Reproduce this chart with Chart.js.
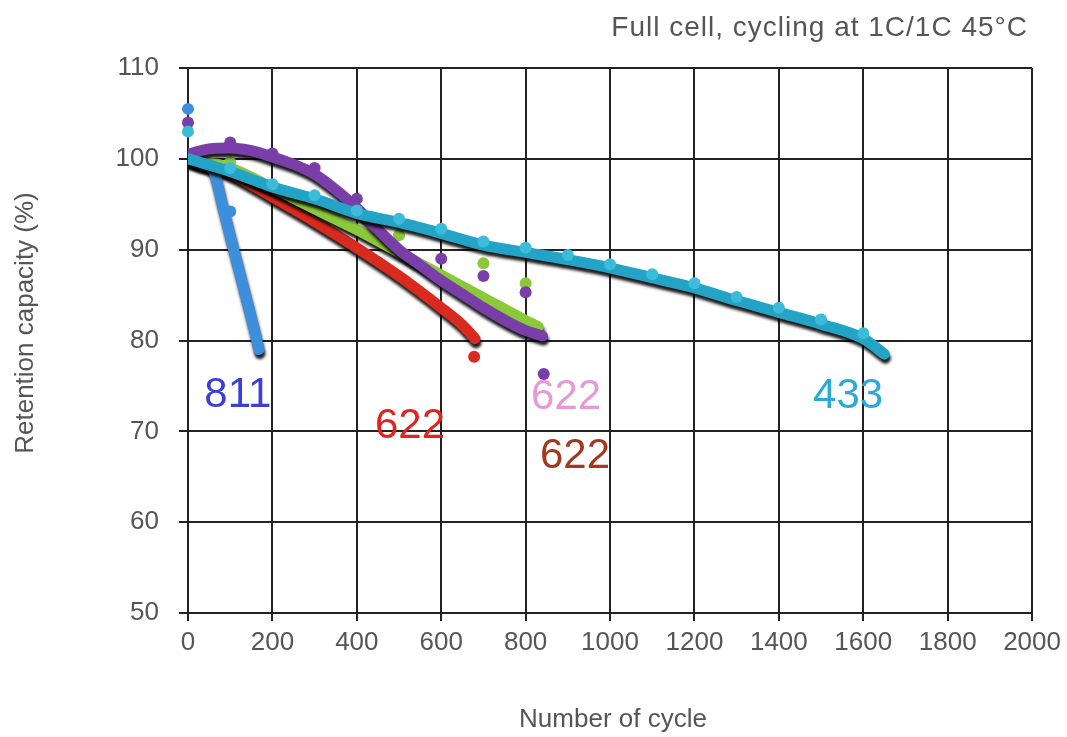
<!DOCTYPE html>
<html lang="en">
<head>
  <meta charset="utf-8">
  <title>Retention capacity vs cycle number</title>
  <script src="https://cdn.jsdelivr.net/npm/chart.js"></script>
  <style>
    html, body { margin: 0; padding: 0; background: #fff; }
    #wrap { position: relative; width: 1067px; height: 737px; }
  </style>
</head>
<body>
<div id="wrap"><canvas id="chart" width="1067" height="737"></canvas></div>

<script>
  // axis ticks
  const xTicks = [0, 200, 400, 600, 800, 1000, 1200, 1400, 1600, 1800, 2000];
  const yTicks = [50, 60, 70, 80, 90, 100, 110];

  // NCM811 (blue)
  const ncm811X = [0, 30, 60, 80, 100, 120, 140, 160, 168];
  const ncm811Y = [100, 99.4, 98.7, 95.2, 91.5, 87.9, 84.3, 80.6, 79];
  const ncm811DotX = [0, 100];
  const ncm811DotY = [105.5, 94.2];

  // NCM622 (red)
  const red622X = [0, 100, 200, 300, 400, 500, 600, 650, 680];
  const red622Y = [100, 98.4, 95.8, 93.1, 90.2, 87.1, 83.6, 81.7, 80.2];
  const red622DotX = [678];
  const red622DotY = [78.2];

  // NCM622 (green)
  const green622X = [0, 100, 200, 300, 400, 500, 600, 700, 800, 830];
  const green622Y = [100, 99, 96.8, 94.5, 92.2, 89.7, 87.2, 84.7, 82.2, 81.5];
  const green622DotX = [100, 500, 700, 800];
  const green622DotY = [99.6, 91.6, 88.5, 86.3];

  // NCM622 (purple)
  const purple622X = [0, 50, 100, 150, 200, 250, 300, 350, 400, 450, 500, 550, 600, 650, 700, 760, 800, 840];
  const purple622Y = [100.5, 101.1, 101.2, 100.9, 100.2, 99.4, 98.3, 96.6, 94.6, 92.2, 90, 88.3, 86.6, 85.1, 83.6, 82, 81.1, 80.5];
  const purple622DotX = [0, 100, 200, 300, 400, 600, 700, 800, 843];
  const purple622DotY = [104, 101.8, 100.6, 99, 95.6, 89, 87.1, 85.3, 76.3];

  // NCM433 (cyan)
  const ncm433X = [0, 100, 200, 300, 400, 500, 600, 700, 800, 900, 1000, 1100, 1200, 1300, 1400, 1500, 1600, 1650];
  const ncm433Y = [100, 98.6, 96.9, 95.6, 94, 93, 91.8, 90.5, 89.7, 88.9, 88, 86.9, 85.8, 84.4, 83.1, 81.8, 80.2, 78.5];
  const ncm433DotX = [0, 100, 200, 300, 400, 500, 600, 700, 800, 900, 1000, 1100, 1200, 1300, 1400, 1500, 1600];
  const ncm433DotY = [103, 99, 97.2, 96, 94.3, 93.4, 92.3, 90.9, 90.2, 89.4, 88.4, 87.3, 86.3, 84.8, 83.6, 82.3, 80.8];

  // curve labels
  const labelText = ['811', '622', '622', '622', '433'];
  const labelX = [118, 526, 896, 917, 1564];
  const labelY = [74, 70.5, 73.7, 67.2, 73.8];
  const labelColor = ['#3b3fd6', '#e0231c', '#e49ad2', '#a2391c', '#2aa9dc'];

  const pts = (xs, ys) => xs.map((x, i) => ({ x: x, y: ys[i] }));

  function curve(xs, ys, color, order) {
    return {
      type: 'line', data: pts(xs, ys), borderColor: color, borderWidth: 11,
      pointRadius: 0, cubicInterpolationMode: 'monotone', borderCapStyle: 'round',
      borderJoinStyle: 'round', fill: false, order: order, shadow: true
    };
  }
  function dots(xs, ys, color, order) {
    return {
      type: 'scatter', data: pts(xs, ys), backgroundColor: color, borderColor: color,
      pointRadius: 6, borderWidth: 0, order: order, showLine: false, clip: false, shadow: false
    };
  }

  // dark drop shadow under the thick curves
  const shadowPlugin = {
    id: 'shadow',
    beforeDatasetDraw(chart, args) {
      const ds = chart.data.datasets[args.index];
      chart.ctx.save();
      if (ds.shadow) {
        chart.ctx.shadowColor = 'rgba(0,0,0,0.9)';
        chart.ctx.shadowBlur = 3;
        chart.ctx.shadowOffsetX = 1;
        chart.ctx.shadowOffsetY = 4;
      }
    },
    afterDatasetDraw(chart) {
      chart.ctx.restore();
    }
  };

  // title, axis titles and curve labels
  const textPlugin = {
    id: 'texts',
    afterDraw(chart) {
      const ctx = chart.ctx;
      const xs = chart.scales.x, ys = chart.scales.y;
      ctx.save();
      ctx.textBaseline = 'middle';
      ctx.textAlign = 'center';
      ctx.font = '42px "Liberation Sans", Arial, sans-serif';
      labelText.forEach((t, i) => {
        ctx.fillStyle = labelColor[i];
        ctx.fillText(t, xs.getPixelForValue(labelX[i]), ys.getPixelForValue(labelY[i]));
      });
      ctx.fillStyle = '#555';
      ctx.textBaseline = 'alphabetic';
      ctx.font = '28px "Liberation Sans", Arial, sans-serif';
      ctx.letterSpacing = '1px';
      ctx.textAlign = 'right';
      ctx.fillText('Full cell, cycling at 1C/1C 45°C', 1028, 36);
      ctx.letterSpacing = '0px';
      ctx.textBaseline = 'middle';
      ctx.textAlign = 'center';
      ctx.font = '26px "Liberation Sans", Arial, sans-serif';
      ctx.fillText('Number of cycle', 613, 720);
      ctx.translate(26, 323);
      ctx.rotate(-Math.PI / 2);
      ctx.fillText('Retention capacity (%)', 0, 0);
      ctx.restore();
    }
  };

  const ctx = document.getElementById('chart').getContext('2d');
  new Chart(ctx, {
    data: {
      datasets: [
        curve(red622X, red622Y, '#d92a1f', 9),
        dots(red622DotX, red622DotY, '#d92a1f', 8),
        curve(green622X, green622Y, '#8cc83c', 7),
        dots(green622DotX, green622DotY, '#8cc83c', 6),
        curve(purple622X, purple622Y, '#7a3ea8', 5),
        dots(purple622DotX, purple622DotY, '#7a3ea8', 4),
        curve(ncm811X, ncm811Y, '#3c8fdc', 3),
        dots(ncm811DotX, ncm811DotY, '#3c8fdc', 2),
        curve(ncm433X, ncm433Y, '#23a4c6', 1),
        dots(ncm433DotX, ncm433DotY, '#3cbcd8', 0)
      ]
    },
    options: {
      responsive: false,
      animation: false,
      layout: { padding: { left: 0, right: 29, top: 68, bottom: 0 } },
      plugins: { legend: { display: false }, tooltip: { enabled: false } },
      scales: {
        x: {
          type: 'linear', min: 0, max: 2000,
          afterBuildTicks: (s) => { s.ticks = xTicks.map(v => ({ value: v })); },
          afterFit: (s) => { s.height = 124; },
          grid: { color: '#222', lineWidth: 2, tickLength: 8 },
          border: { color: '#222', width: 2 },
          ticks: {
            color: '#555', padding: 6, callback: (v) => String(v),
            font: { size: 26, family: '"Liberation Sans", Arial' }
          }
        },
        y: {
          type: 'linear', min: 50, max: 110,
          afterBuildTicks: (s) => { s.ticks = yTicks.map(v => ({ value: v })); },
          afterFit: (s) => { s.width = 188; },
          grid: { color: '#222', lineWidth: 2, tickLength: 9 },
          border: { color: '#222', width: 2 },
          ticks: {
            color: '#555', padding: 20, callback: (v) => String(v),
            font: { size: 26, family: '"Liberation Sans", Arial' }
          }
        }
      }
    },
    plugins: [shadowPlugin, textPlugin]
  });
</script>
</body>
</html>
